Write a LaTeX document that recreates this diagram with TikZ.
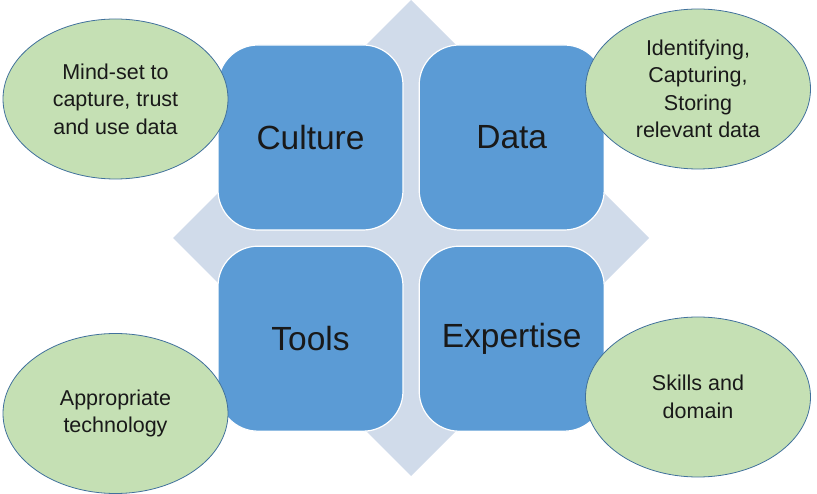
\documentclass[tikz,border=0pt]{standalone}
\usepackage{fontspec}
\setmainfont{Liberation Sans}
\usetikzlibrary{positioning,shapes.geometric}
\definecolor{boxblue}{HTML}{5B9BD5}
\definecolor{backblue}{HTML}{D0DBEA}
\definecolor{bubblegreen}{HTML}{C5E0B4}
\definecolor{bubbleedge}{HTML}{41719C}

\begin{document}
\begin{tikzpicture}[
    x=1pt, y=-1pt,
    node distance=15pt,
    pillar/.style={rectangle, rounded corners=40pt, fill=boxblue, draw=white,
        line width=1.2pt, minimum width=185pt, minimum height=185pt,
        inner sep=0pt, text=black!90, font=\fontsize{33.5}{40}\selectfont},
    bubble/.style={ellipse, fill=bubblegreen, draw=bubbleedge, line width=0.8pt,
        inner sep=0pt, minimum width=225pt, minimum height=160pt, align=center,
        text=black!90, font=\fontsize{21.5}{27.5}\selectfont}
    ]
    \useasboundingbox (0,0) rectangle (817,494);
    % Background diamond
    \fill[backblue] (411,0) -- (649,238) -- (411,476) -- (173,238) -- cycle;

    % Nodes
    \node[pillar] (culture) at (310.5,137.5) {Culture};
    \node[pillar] (data) [right=of culture] {Data};
    \node[pillar] (tools) [below=of culture] {Tools};
    \node[pillar] (expertise) [right=of tools] {Expertise};

    % Bubbles round the corners
    \node[bubble] (mindset) at (115.5,99) {Mind-set to\\capture, trust\\and use data};
    \node[bubble] (capture) at (698,89) {Identifying,\\Capturing,\\Storing\\relevant data};
    \node[bubble] (technology) at (115.5,413.5) {Appropriate\\technology};
    \node[bubble] (skills) at (698,397) {Skills and\\domain};
\end{tikzpicture}
\end{document}
